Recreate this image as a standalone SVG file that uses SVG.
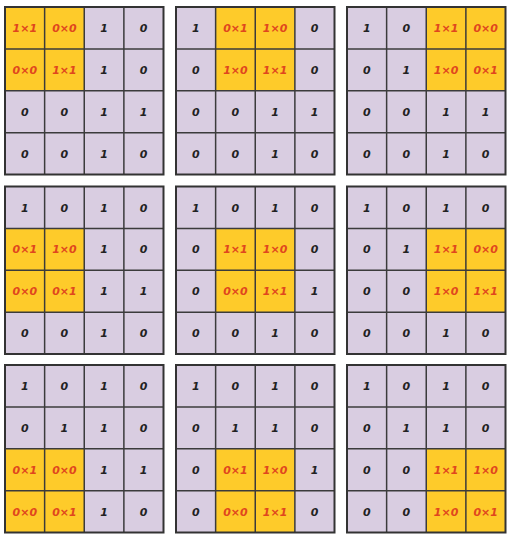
<svg xmlns="http://www.w3.org/2000/svg" xmlns:xlink="http://www.w3.org/1999/xlink" width="510" height="539" viewBox="0 0 510 539">
<style>
.bg{fill:#d9cde1;stroke:none}
.win{fill:#fecb2a;stroke:none}
.ln{stroke:#3b3b3b;stroke-width:1.5;fill:none}
.ob{fill:none;stroke:#333;stroke-width:2}
text{font-family:"DejaVu Sans","Liberation Sans",sans-serif;font-style:italic;font-weight:bold;font-size:11px;text-anchor:middle}
.t{fill:#222}
.r{fill:#e0461e}
</style>
<defs>
<g id="lines" class="ln">
<line x1="39.625" y1="0" x2="39.625" y2="167.5"/>
<line x1="79.25" y1="0" x2="79.25" y2="167.5"/>
<line x1="118.875" y1="0" x2="118.875" y2="167.5"/>
<line x1="0" y1="41.875" x2="158.5" y2="41.875"/>
<line x1="0" y1="83.75" x2="158.5" y2="83.75"/>
<line x1="0" y1="125.625" x2="158.5" y2="125.625"/>
</g>
</defs>
<rect width="510" height="539" fill="#fff"/>
<g id="connectors"></g>

<g id="grid1" transform="translate(5,7)">
<rect class="bg" width="158.5" height="167.5"/>
<rect class="win" x="0" y="0" width="79.25" height="83.75"/>
<use xlink:href="#lines"/>
<rect class="ob" width="158.5" height="167.5"/>
<text class="r" x="19.8" y="25">1×1</text><text class="r" x="59.4" y="25">0×0</text><text class="t" x="99.1" y="25">1</text><text class="t" x="138.7" y="25">0</text>
<text class="r" x="19.8" y="66.8">0×0</text><text class="r" x="59.4" y="66.8">1×1</text><text class="t" x="99.1" y="66.8">1</text><text class="t" x="138.7" y="66.8">0</text>
<text class="t" x="19.8" y="108.7">0</text><text class="t" x="59.4" y="108.7">0</text><text class="t" x="99.1" y="108.7">1</text><text class="t" x="138.7" y="108.7">1</text>
<text class="t" x="19.8" y="150.6">0</text><text class="t" x="59.4" y="150.6">0</text><text class="t" x="99.1" y="150.6">1</text><text class="t" x="138.7" y="150.6">0</text>
</g>

<g id="grid2" transform="translate(176,7)">
<rect class="bg" width="158.5" height="167.5"/>
<rect class="win" x="39.625" y="0" width="79.25" height="83.75"/>
<use xlink:href="#lines"/>
<rect class="ob" width="158.5" height="167.5"/>
<text class="t" x="19.8" y="25">1</text><text class="r" x="59.4" y="25">0×1</text><text class="r" x="99.1" y="25">1×0</text><text class="t" x="138.7" y="25">0</text>
<text class="t" x="19.8" y="66.8">0</text><text class="r" x="59.4" y="66.8">1×0</text><text class="r" x="99.1" y="66.8">1×1</text><text class="t" x="138.7" y="66.8">0</text>
<text class="t" x="19.8" y="108.7">0</text><text class="t" x="59.4" y="108.7">0</text><text class="t" x="99.1" y="108.7">1</text><text class="t" x="138.7" y="108.7">1</text>
<text class="t" x="19.8" y="150.6">0</text><text class="t" x="59.4" y="150.6">0</text><text class="t" x="99.1" y="150.6">1</text><text class="t" x="138.7" y="150.6">0</text>
</g>

<g id="grid3" transform="translate(347,7)">
<rect class="bg" width="158.5" height="167.5"/>
<rect class="win" x="79.25" y="0" width="79.25" height="83.75"/>
<use xlink:href="#lines"/>
<rect class="ob" width="158.5" height="167.5"/>
<text class="t" x="19.8" y="25">1</text><text class="t" x="59.4" y="25">0</text><text class="r" x="99.1" y="25">1×1</text><text class="r" x="138.7" y="25">0×0</text>
<text class="t" x="19.8" y="66.8">0</text><text class="t" x="59.4" y="66.8">1</text><text class="r" x="99.1" y="66.8">1×0</text><text class="r" x="138.7" y="66.8">0×1</text>
<text class="t" x="19.8" y="108.7">0</text><text class="t" x="59.4" y="108.7">0</text><text class="t" x="99.1" y="108.7">1</text><text class="t" x="138.7" y="108.7">1</text>
<text class="t" x="19.8" y="150.6">0</text><text class="t" x="59.4" y="150.6">0</text><text class="t" x="99.1" y="150.6">1</text><text class="t" x="138.7" y="150.6">0</text>
</g>

<g id="grid4" transform="translate(5,186.5)">
<rect class="bg" width="158.5" height="167.5"/>
<rect class="win" x="0" y="41.875" width="79.25" height="83.75"/>
<use xlink:href="#lines"/>
<rect class="ob" width="158.5" height="167.5"/>
<text class="t" x="19.8" y="25">1</text><text class="t" x="59.4" y="25">0</text><text class="t" x="99.1" y="25">1</text><text class="t" x="138.7" y="25">0</text>
<text class="r" x="19.8" y="66.8">0×1</text><text class="r" x="59.4" y="66.8">1×0</text><text class="t" x="99.1" y="66.8">1</text><text class="t" x="138.7" y="66.8">0</text>
<text class="r" x="19.8" y="108.7">0×0</text><text class="r" x="59.4" y="108.7">0×1</text><text class="t" x="99.1" y="108.7">1</text><text class="t" x="138.7" y="108.7">1</text>
<text class="t" x="19.8" y="150.6">0</text><text class="t" x="59.4" y="150.6">0</text><text class="t" x="99.1" y="150.6">1</text><text class="t" x="138.7" y="150.6">0</text>
</g>

<g id="grid5" transform="translate(176,186.5)">
<rect class="bg" width="158.5" height="167.5"/>
<rect class="win" x="39.625" y="41.875" width="79.25" height="83.75"/>
<use xlink:href="#lines"/>
<rect class="ob" width="158.5" height="167.5"/>
<text class="t" x="19.8" y="25">1</text><text class="t" x="59.4" y="25">0</text><text class="t" x="99.1" y="25">1</text><text class="t" x="138.7" y="25">0</text>
<text class="t" x="19.8" y="66.8">0</text><text class="r" x="59.4" y="66.8">1×1</text><text class="r" x="99.1" y="66.8">1×0</text><text class="t" x="138.7" y="66.8">0</text>
<text class="t" x="19.8" y="108.7">0</text><text class="r" x="59.4" y="108.7">0×0</text><text class="r" x="99.1" y="108.7">1×1</text><text class="t" x="138.7" y="108.7">1</text>
<text class="t" x="19.8" y="150.6">0</text><text class="t" x="59.4" y="150.6">0</text><text class="t" x="99.1" y="150.6">1</text><text class="t" x="138.7" y="150.6">0</text>
</g>

<g id="grid6" transform="translate(347,186.5)">
<rect class="bg" width="158.5" height="167.5"/>
<rect class="win" x="79.25" y="41.875" width="79.25" height="83.75"/>
<use xlink:href="#lines"/>
<rect class="ob" width="158.5" height="167.5"/>
<text class="t" x="19.8" y="25">1</text><text class="t" x="59.4" y="25">0</text><text class="t" x="99.1" y="25">1</text><text class="t" x="138.7" y="25">0</text>
<text class="t" x="19.8" y="66.8">0</text><text class="t" x="59.4" y="66.8">1</text><text class="r" x="99.1" y="66.8">1×1</text><text class="r" x="138.7" y="66.8">0×0</text>
<text class="t" x="19.8" y="108.7">0</text><text class="t" x="59.4" y="108.7">0</text><text class="r" x="99.1" y="108.7">1×0</text><text class="r" x="138.7" y="108.7">1×1</text>
<text class="t" x="19.8" y="150.6">0</text><text class="t" x="59.4" y="150.6">0</text><text class="t" x="99.1" y="150.6">1</text><text class="t" x="138.7" y="150.6">0</text>
</g>

<g id="grid7" transform="translate(5,365)">
<rect class="bg" width="158.5" height="167.5"/>
<rect class="win" x="0" y="83.75" width="79.25" height="83.75"/>
<use xlink:href="#lines"/>
<rect class="ob" width="158.5" height="167.5"/>
<text class="t" x="19.8" y="25">1</text><text class="t" x="59.4" y="25">0</text><text class="t" x="99.1" y="25">1</text><text class="t" x="138.7" y="25">0</text>
<text class="t" x="19.8" y="66.8">0</text><text class="t" x="59.4" y="66.8">1</text><text class="t" x="99.1" y="66.8">1</text><text class="t" x="138.7" y="66.8">0</text>
<text class="r" x="19.8" y="108.7">0×1</text><text class="r" x="59.4" y="108.7">0×0</text><text class="t" x="99.1" y="108.7">1</text><text class="t" x="138.7" y="108.7">1</text>
<text class="r" x="19.8" y="150.6">0×0</text><text class="r" x="59.4" y="150.6">0×1</text><text class="t" x="99.1" y="150.6">1</text><text class="t" x="138.7" y="150.6">0</text>
</g>

<g id="grid8" transform="translate(176,365)">
<rect class="bg" width="158.5" height="167.5"/>
<rect class="win" x="39.625" y="83.75" width="79.25" height="83.75"/>
<use xlink:href="#lines"/>
<rect class="ob" width="158.5" height="167.5"/>
<text class="t" x="19.8" y="25">1</text><text class="t" x="59.4" y="25">0</text><text class="t" x="99.1" y="25">1</text><text class="t" x="138.7" y="25">0</text>
<text class="t" x="19.8" y="66.8">0</text><text class="t" x="59.4" y="66.8">1</text><text class="t" x="99.1" y="66.8">1</text><text class="t" x="138.7" y="66.8">0</text>
<text class="t" x="19.8" y="108.7">0</text><text class="r" x="59.4" y="108.7">0×1</text><text class="r" x="99.1" y="108.7">1×0</text><text class="t" x="138.7" y="108.7">1</text>
<text class="t" x="19.8" y="150.6">0</text><text class="r" x="59.4" y="150.6">0×0</text><text class="r" x="99.1" y="150.6">1×1</text><text class="t" x="138.7" y="150.6">0</text>
</g>

<g id="grid9" transform="translate(347,365)">
<rect class="bg" width="158.5" height="167.5"/>
<rect class="win" x="79.25" y="83.75" width="79.25" height="83.75"/>
<use xlink:href="#lines"/>
<rect class="ob" width="158.5" height="167.5"/>
<text class="t" x="19.8" y="25">1</text><text class="t" x="59.4" y="25">0</text><text class="t" x="99.1" y="25">1</text><text class="t" x="138.7" y="25">0</text>
<text class="t" x="19.8" y="66.8">0</text><text class="t" x="59.4" y="66.8">1</text><text class="t" x="99.1" y="66.8">1</text><text class="t" x="138.7" y="66.8">0</text>
<text class="t" x="19.8" y="108.7">0</text><text class="t" x="59.4" y="108.7">0</text><text class="r" x="99.1" y="108.7">1×1</text><text class="r" x="138.7" y="108.7">1×0</text>
<text class="t" x="19.8" y="150.6">0</text><text class="t" x="59.4" y="150.6">0</text><text class="r" x="99.1" y="150.6">1×0</text><text class="r" x="138.7" y="150.6">0×1</text>
</g>
</svg>
